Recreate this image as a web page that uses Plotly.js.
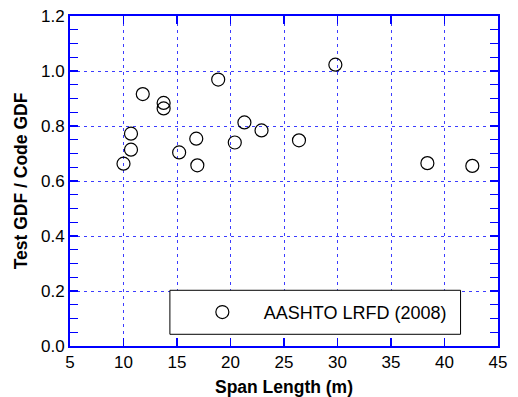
<!DOCTYPE html>
<html><head><meta charset="utf-8">
<script src="https://cdn.plot.ly/plotly-3.0.1.min.js"></script>
<style>body{margin:0;padding:0;background:#fff}#chart{width:518px;height:397px}</style>
</head><body><div id="chart"></div>
<script>
const spanLength = [10.0, 10.7, 10.7, 11.8, 13.75, 13.75, 15.2, 16.8, 16.9, 18.85, 20.4, 21.3, 22.9, 26.4, 29.8, 38.4, 42.6];
const gdfRatio   = [0.663, 0.714, 0.772, 0.916, 0.884, 0.864, 0.704, 0.754, 0.657, 0.969, 0.740, 0.813, 0.784, 0.748, 1.023, 0.665, 0.655];
const seriesName = 'AASHTO LRFD (2008)';
const xTitle = 'Span Length (m)';
const yTitle = 'Test GDF / Code GDF';

const blue = 'rgb(0,0,255)';
const gridBlue = 'rgb(60,60,255)';
const trace = {
  x: spanLength, y: gdfRatio, type: 'scatter', mode: 'markers', name: seriesName,
  marker: {symbol: 'circle-open', size: 13, color: '#000', line: {width: 1.2, color: '#000'}},
  showlegend: true
};
const layout = {
  width: 518, height: 397,
  margin: {l: 70, r: 19.5, t: 15.7, b: 51.3},
  paper_bgcolor: '#fff', plot_bgcolor: '#fff',
  font: {family: 'Liberation Sans, Arial, sans-serif', color: '#000', size: 17},
  showlegend: true,
  xaxis: {
    range: [5, 45], dtick: 5, tick0: 5, autorange: false,
    showline: true, linecolor: blue, linewidth: 2, mirror: 'allticks',
    ticks: 'inside', ticklen: 8, tickcolor: blue, tickwidth: 1.5,
    showgrid: true, gridcolor: gridBlue, griddash: '3px,4px', gridwidth: 1,
    zeroline: false,
    tickfont: {size: 17},
    title: {text: '<b>' + xTitle + '</b>', font: {size: 17.5}, standoff: 13}
  },
  yaxis: {
    range: [0, 1.2], dtick: 0.2, autorange: false, tickformat: '.1f',
    showline: true, linecolor: blue, linewidth: 2, mirror: 'allticks',
    ticks: 'inside', ticklen: 8, tickcolor: blue, tickwidth: 1.5,
    minor: {dtick: 0.05, ticks: 'inside', ticklen: 8, tickcolor: blue, tickwidth: 1, showgrid: false},
    showgrid: true, gridcolor: gridBlue, griddash: '3px,4px', gridwidth: 1,
    zeroline: false,
    tickfont: {size: 17},
    title: {text: '<b>' + yTitle + '</b>', font: {size: 17.5}, standoff: 9}
  },
  shapes: [{
    type: 'rect', xref: 'paper', yref: 'paper', layer: 'above',
    x0: 0.2334, x1: 0.9125, y0: 0.0355, y1: 0.1688,
    line: {color: '#000', width: 1}, fillcolor: '#fff'
  }],
  legend: {
    x: 0.259, y: 0.102, xanchor: 'left', yanchor: 'middle',
    bgcolor: 'rgba(0,0,0,0)', borderwidth: 0,
    font: {size: 18}, itemwidth: 73
  }
};
Plotly.newPlot('chart', [trace], layout, {displayModeBar: false, staticPlot: true});
</script></body></html>
